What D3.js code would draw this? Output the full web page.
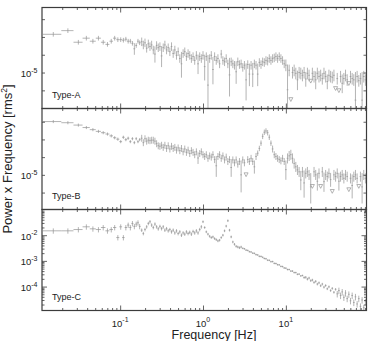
<!DOCTYPE html>
<html>
<head>
<meta charset="utf-8">
<script src="https://cdn.jsdelivr.net/npm/d3@7"></script>
<style>
  body { margin: 0; background: #fff; }
  svg { display: block; font-family: "Liberation Sans", Arial, sans-serif; }
</style>
</head>
<body>
<svg id="chart" width="374" height="341"></svg>
<script>
// bin centre frequencies [Hz], shared by the three spectra
var freq = [
  0.0156,0.0234,0.0313,0.0391,0.0469,0.0547,0.0625,0.0703,0.0781,0.0859,0.0938,0.1016,0.1094,0.1172,0.125,0.1328,0.1406,0.1484,0.1563,0.1641,0.1719,
  0.182,0.1905,0.1995,0.2089,0.2188,0.2291,0.2399,0.2512,0.263,0.2754,0.2884,0.302,0.3162,0.3311,0.3467,0.3631,0.3802,0.3981,0.4169,0.4365,
  0.4571,0.4786,0.5012,0.5248,0.5495,0.5754,0.6026,0.631,0.6607,0.6918,0.7244,0.7586,0.7943,0.8318,0.871,0.912,0.955,
  1,1.047,1.096,1.148,1.202,1.259,1.318,1.38,1.445,1.514,1.585,1.66,1.738,1.82,1.905,1.995,2.089,2.188,2.291,2.399,
  2.512,2.63,2.754,2.884,3.02,3.162,3.311,3.467,3.631,3.802,3.981,4.169,4.365,4.571,4.786,5.012,5.248,5.495,5.754,6.026,
  6.31,6.607,6.918,7.244,7.586,7.943,8.318,8.71,9.12,9.55,
  10,10.47,10.96,11.48,12.02,12.59,13.18,13.8,14.45,15.14,15.85,16.6,17.38,18.2,19.05,19.95,20.89,21.88,22.91,23.99,
  25.12,26.3,27.54,28.84,30.2,31.62,33.11,34.67,36.31,38.02,39.81,41.69,43.65,45.71,47.86,50.12,52.48,54.95,57.54,60.26,
  63.1,66.07,69.18,72.44,75.86,79.43,83.18,87.1,91.2
];

// Type-A, power x frequency in units of 1e-5 rms^2, relative errors, upper limits (indices)
var powA = [
  1.64,1.72,1.48,1.56,1.50,1.56,1.48,1.44,1.50,1.56,1.53,1.53,1.52,1.54,1.50,1.50,1.46,1.36,1.42,1.50,1.47,
  1.49,1.43,1.47,1.37,1.45,1.40,1.43,1.34,1.27,1.42, 1.38,1.40,1.24,1.38,1.43,1.34,1.38,1.31,1.40,1.28,
  1.34,1.25,1.31,1.20,1.12,1.28,1.31,1.23,1.28,1.25, 1.20,1.23,1.17,1.25,1.12,1.23,1.20,
  1.25,1.08,1.23,0.85,1.20,1.25,1.04,1.23,1.17,1.20, 1.12,1.27,1.17,1.15,1.20,1.12,0.97,1.15,1.12,1.10,
  1.01,1.15,1.11,1.12,1.07,1.10,0.91,1.11,0.98,1.10, 0.98,1.12,1.10,0.98,1.14,1.11,1.15,1.14,1.17,1.16,
  1.20,1.17,1.20,1.21,1.23,1.20,1.23,1.20,1.17,1.12,
  1.10,0.80,1.03,0.704,1.00,1.03,0.99,0.91,1.00,0.99, 0.965,1.00,0.92,0.99,0.965,0.893,0.99,0.95,0.91,0.99,
  0.95,0.965,0.925,0.99,0.95,0.89,0.965,0.95,0.94,0.965, 0.812,0.925,0.79,0.95,0.87,0.925,0.965,0.91,0.866,0.95,
  0.925,0.91,0.70,0.95,0.90,0.925,0.70,0.95,0.91
];
var errA = [
  0.025,0.025,0.025,0.025,0.025,0.025,0.025,0.025,0.025,0.025,0.025,0.025,0.025,0.025,0.025,0.025,0.025,0.07,0.025,0.025,0.025,
  0.05,0.05,0.05,0.05,0.05,0.05,0.05,0.05,0.10,0.05, 0.05,0.05,0.13,0.05,0.05,0.05,0.05,0.05,0.05,0.05,
  0.05,0.05,0.05,0.05,0.16,0.05,0.05,0.05,0.05,0.05, 0.05,0.05,0.05,0.05,0.12,0.05,0.05,
  0.05,0.16,0.05,0.47,0.05,0.05,0.17,0.05,0.05,0.05, 0.05,0.05,0.05,0.05,0.05,0.05,0.24,0.05,0.05,0.05,
  0.14,0.05,0.05,0.05,0.05,0.05,0.23,0.05,0.14,0.05, 0.15,0.05,0.05,0.14,0.05,0.05,0.05,0.05,0.05,0.05,
  0.05,0.05,0.05,0.05,0.05,0.05,0.05,0.05,0.05,0.05,
  0.07,0.38,0.07,0,0.07,0.07,0.07,0.12,0.07,0.07, 0.07,0.07,0.09,0.07,0.07,0,0.07,0.07,0.11,0.07,
  0.07,0.07,0.07,0.07,0.07,0.09,0.07,0.07,0.07,0.07, 0,0.07,0,0.07,0.115,0.07,0.07,0.07,0,0.07,
  0.07,0.07,0.43,0.07,0.07,0.07,0.43,0.07,0.07
];
var ulA = [111, 123, 138, 140, 146];

// Type-B, units of 1e-5 rms^2
var powB = [
  2.00,1.97,1.91,1.85,1.80,1.76,1.73,1.70,1.66,1.62,1.59,1.54,1.63,1.58,1.61,1.54,1.60,1.52,1.60,1.54,1.58,
  1.61,1.52,1.60,1.55,1.57,1.56,1.57,1.57,1.55,1.50, 1.46,1.45,1.47,1.43,1.47,1.41,1.46,1.40,1.45,1.41,
  1.43,1.38,1.42,1.37,1.41,1.35,1.40,1.34,1.38,1.32, 1.37,1.34,1.30,1.35,1.245,1.32,1.35,
  1.30,1.27,1.30,1.24,1.28,1.26,1.30,1.22,1.125,1.27, 1.30,1.24,1.28,1.215,1.26,1.19,1.22,1.10,1.215,1.17,
  1.215,1.15,1.19,1.00,1.215,1.17,1.00,1.22,1.19,1.24, 1.19,1.11,1.27,1.325,1.41,1.51,1.65,1.74,1.77,1.73,
  1.63,1.51,1.40,1.30,1.27,1.24,1.22,1.20,1.24,1.19,
  1.07,1.24,1.28,1.30,1.24,1.16,1.11,1.067,1.04,0.935, 1.04,0.90,1.02,1.04,1.00,0.855,0.859,1.04,1.00,0.92,
  1.02,0.859,1.04,0.915,1.00,0.978,1.02,0.94,0.805,1.00, 0.978,1.02,0.92,0.978,1.00,0.956,1.00,0.978,0.823,0.956,
  0.87,0.978,1.00,0.956,0.859,0.978,0.855,1.00,0.956
];
var errB = [
  0.015,0.015,0.015,0.015,0.015,0.015,0.015,0.015,0.015,0.015,0.015,0.015,0.015,0.015,0.015,0.015,0.015,0.015,0.015,0.015,0.015,
  0.04,0.04,0.04,0.04,0.04,0.04,0.04,0.04,0.04,0.04, 0.04,0.04,0.04,0.04,0.04,0.04,0.04,0.04,0.04,0.04,
  0.04,0.04,0.04,0.04,0.04,0.04,0.04,0.04,0.04,0.04, 0.04,0.04,0.04,0.04,0.07,0.04,0.04,
  0.04,0.04,0.04,0.04,0.04,0.04,0.04,0.04,0.13,0.04, 0.04,0.04,0.04,0.04,0.04,0.04,0.04,0.11,0.04,0.04,
  0.04,0.04,0.04,0.20,0.04,0.04,0,0.04,0.04,0.04, 0.04,0.08,0.04,0.03,0.03,0.03,0.03,0.03,0.03,0.03,
  0.03,0.03,0.04,0.04,0.04,0.04,0.04,0.04,0.04,0.04,
  0.12,0.06,0.06,0.06,0.06,0.06,0.06,0.06,0.06,0.12, 0.06,0.17,0.06,0.06,0.06,0.19,0,0.06,0.06,0.11,
  0.06,0,0.06,0.12,0.06,0.06,0.06,0.085,0,0.06, 0.06,0.06,0.11,0.06,0.06,0.06,0.06,0.06,0,0.06,
  0.15,0.06,0.06,0.06,0,0.06,0.19,0.06,0.06
];
var ulB = [84, 124, 129, 136, 146, 152];

// Type-C, rms^2
var powC = [
  0.0148,0.0148,0.0166,0.0212,0.0177,0.0166,0.0199,0.0148,0.0166,0.0199,0.0081,0.0212,0.0081,0.0199,0.0248,0.0199,0.0286,0.0220,0.0270,0.0305,0.0220,
  0.0157,0.0116,0.0166,0.0212,0.0286,0.0334,0.0248,0.0199,0.0270,0.0212, 0.0177,0.0220,0.0180,0.0212,0.0157,0.0180,0.0148,0.0166,0.0135,0.0157,
  0.0123,0.0148,0.0116,0.0135,0.0100,0.0123,0.0110,0.0135,0.0116,0.0130, 0.0110,0.0140,0.0123,0.0148,0.0123,0.0166,0.0212,
  0.0334,0.0199,0.0135,0.0110,0.0091,0.0081,0.0086,0.0074,0.0067,0.0060, 0.0064,0.0081,0.0100,0.0148,0.0226,0.0366,0.0157,0.0086,0.00545,0.00443,
  0.00369,0.00347,0.00325,0.00347,
  0.00308,0.00295,0.00262,0.00255,0.00228,0.00222,0.00200,0.00196,0.00175,0.00170,
  0.00150,0.00149,0.00138,0.00124,0.00121,0.00106,0.00105,0.00093,0.00094,0.00080,
  0.00079,0.00071,0.00070,0.00061,0.00060,0.00053,0.00052,0.00046,0.00046,0.00040,
  0.00040,0.00035,0.00035,0.00030,0.000305,0.00026,0.00027,0.000225,0.00023,0.000195,
  0.000215,0.000170,0.000180,0.000145,0.000160,0.000125,0.000140,0.000108,0.000125,0.000095,
  0.000110,0.000082,0.000098,0.000070,0.000085,0.000060,0.000078,0.000052,0.000070,0.000045,
  0.000062,0.000038,0.000056,0.000034,0.000050,0.000028,0.000045,0.000024,0.000040,0.000021,
  0.000034,0.000017,0.000030,0.000015,0.000026
];
var errC = [
  0.2,0.2,0.2,0.2,0.2,0.2,0.2,0.2,0.2,0.2,0.2,0.2,0.2,0.2,0.2,0.2,0.2,0.2,0.2,0.2,0.2,
  0.12,0.12,0.12,0.12,0.12,0.12,0.12,0.12,0.12,0.12, 0.12,0.12,0.12,0.12,0.12,0.12,0.12,0.12,0.12,0.12,
  0.12,0.12,0.12,0.12,0.12,0.12,0.12,0.12,0.12,0.12, 0.12,0.12,0.12,0.12,0.12,0.12,0.12,
  0.08,0.08,0.08,0.08,0.08,0.08,0.08,0.08,0.08,0.08, 0.08,0.08,0.08,0.08,0.08,0.08,0.08,0.08,0.08,0.08,
  0.08,0.08,0.08,0.08,
  0.04,0.04,0.04,0.04,0.04,0.04,0.04,0.04,0.04,0.04, 0.04,0.04,0.04,0.04,0.04,0.04,0.04,0.04,0.04,0.04,
  0.04,0.04,0.04,0.04,0.04,0.04,0.04,0.04,0.04,0.04, 0.04,0.04,0.04,0.04,0.04,0.04,0.04,
  0.08,0.08,0.08,0.08,0.08,0.08,0.08,0.08,0.08,0.08, 0.08,0.08,0.08,0.08,0.08,0.08,0.08,0.08,0.08,0.08,
  0.25,0.25,0.25,0.25,0.25,0.25,0.25,0.25,0.25,0.25, 0.25,0.25,0.25,0.25,0.25,0.25,0.25,0.25
];
var ulC = [];

// axis ranges and ticks
var xRange = [0.0114, 94];
var xMajor = [0.1, 1, 10];
var xMinor = [0.02,0.03,0.04,0.05,0.06,0.07,0.08,0.09,0.2,0.3,0.4,0.5,0.6,0.7,0.8,0.9,
              2,3,4,5,6,7,8,9,20,30,40,50,60,70,80,90];
var xLabels = ['-1', '0', '1'];
var yRangeA = [6.28e-6, 2.32e-5];
var yRangeB = [6.37e-6, 2.37e-5];
var yRangeC = [1.17e-5, 0.1];
var yTicksAB = [7.94e-6, 1e-5, 1.259e-5, 1.585e-5, 1.995e-5];
var yLabelsAB = [[1e-5, '-5']];
var yTicksCMajor = [1e-4, 1e-3, 1e-2];
var yLabelsC = [[1e-2, '-2'], [1e-3, '-3'], [1e-4, '-4']];
var names = ['Type-A', 'Type-B', 'Type-C'];

var panels = [
  {name: names[0], pow: powA, err: errA, ul: ulA, unit: 1e-5, range: yRangeA, labels: yLabelsAB},
  {name: names[1], pow: powB, err: errB, ul: ulB, unit: 1e-5, range: yRangeB, labels: yLabelsAB},
  {name: names[2], pow: powC, err: errC, ul: ulC, unit: 1,    range: yRangeC, labels: yLabelsC}
];

var left = 42, right = 366.5, top0 = 7.5, ph = 101;
var frameColor = '#3c3c3c', dataColor = '#939393';

var svg = d3.select('#chart');
var x = d3.scaleLog().domain(xRange).range([left, right]);

// bin edges: half way to neighbouring bins
function edges(i) {
  var f = freq[i];
  var lo = i > 0 ? (f + freq[i-1]) / 2 : f - (freq[1] - freq[0]) / 2;
  var hi = i < freq.length - 1 ? (f + freq[i+1]) / 2 : f * Math.sqrt(freq[i] / freq[i-1]);
  return [lo, hi];
}

function expLabel(t, e) {
  t.append('tspan').text('10');
  t.append('tspan').attr('dy', -4.5).style('font-size', '7px').text(e);
}

function minorLog(range) {
  var out = [];
  var d0 = Math.floor(Math.log10(range[0])), d1 = Math.ceil(Math.log10(range[1]));
  for (var d = d0; d < d1; d++)
    for (var m = 2; m <= 9; m++) {
      var v = m * Math.pow(10, d);
      if (v > range[0] && v < range[1]) out.push(v);
    }
  return out;
}

panels.forEach(function(p, k) {
  var top = top0 + k * ph, bottom = top + ph;
  var y = d3.scaleLog().domain(p.range).range([bottom, top]);
  var g = svg.append('g');

  g.append('clipPath').attr('id', 'clip' + k)
    .append('rect').attr('x', left).attr('y', top).attr('width', right - left).attr('height', ph);

  var dg = g.append('g').attr('clip-path', 'url(#clip' + k + ')')
    .attr('stroke', dataColor).attr('stroke-width', 0.7).attr('fill', 'none');

  var pts = freq.map(function(f, i) {
    return {f: f, v: p.pow[i] * p.unit, e: p.err[i], ul: p.ul.indexOf(i) >= 0, ed: edges(i)};
  });

  // horizontal bars (bin width)
  dg.selectAll('line.h').data(pts.filter(function(d) { return !d.ul; }))
    .enter().append('line').attr('class', 'h')
    .attr('x1', function(d) { return x(d.ed[0]); })
    .attr('x2', function(d) { return x(d.ed[1]); })
    .attr('y1', function(d) { return y(d.v); })
    .attr('y2', function(d) { return y(d.v); });

  // vertical error bars
  dg.selectAll('line.v').data(pts.filter(function(d) { return !d.ul; }))
    .enter().append('line').attr('class', 'v')
    .attr('x1', function(d) { return x(d.f); })
    .attr('x2', function(d) { return x(d.f); })
    .attr('y1', function(d) { var lo = d.v * (1 - d.e); return lo > 0 ? y(lo) + 0.4 : bottom + 2; })
    .attr('y2', function(d) { return y(d.v * (1 + d.e)) - 0.4; });

  // upper limits as small down triangles
  dg.selectAll('path.ul').data(pts.filter(function(d) { return d.ul; }))
    .enter().append('path').attr('class', 'ul')
    .attr('d', function(d) {
      var cx = x(d.f), cy = y(d.v);
      return 'M' + (cx - 2) + ',' + (cy - 2) + 'L' + (cx + 2) + ',' + (cy - 2) + 'L' + cx + ',' + (cy + 1.8) + 'Z';
    });

  // ticks, pointing inwards on all four sides
  var ax = g.append('g').attr('color', frameColor).attr('stroke-width', 0.8);
  function put(axis, tx, ty) {
    ax.append('g').attr('transform', 'translate(' + tx + ',' + ty + ')')
      .call(axis.tickFormat(''))
      .call(function(s) { s.select('.domain').remove(); });
  }
  put(d3.axisBottom(x).tickValues(xMajor).tickSize(-5), 0, bottom);
  put(d3.axisBottom(x).tickValues(xMinor).tickSize(-2.5), 0, bottom);
  put(d3.axisTop(x).tickValues(xMajor).tickSize(-5), 0, top);
  put(d3.axisTop(x).tickValues(xMinor).tickSize(-2.5), 0, top);

  if (k < 2) {
    put(d3.axisLeft(y).tickValues(yTicksAB).tickSize(-3), left, 0);
    put(d3.axisRight(y).tickValues(yTicksAB).tickSize(-3), right, 0);
  } else {
    put(d3.axisLeft(y).tickValues(yTicksCMajor).tickSize(-5), left, 0);
    put(d3.axisLeft(y).tickValues(minorLog(p.range)).tickSize(-2.5), left, 0);
    put(d3.axisRight(y).tickValues(yTicksCMajor).tickSize(-5), right, 0);
    put(d3.axisRight(y).tickValues(minorLog(p.range)).tickSize(-2.5), right, 0);
  }

  g.append('rect').attr('x', left).attr('y', top).attr('width', right - left).attr('height', ph)
    .attr('fill', 'none').attr('stroke', frameColor).attr('stroke-width', 1.2);

  // y tick labels
  p.labels.forEach(function(l) {
    var t = g.append('text').attr('x', left - 4.5).attr('y', y(l[0]) + 4.5)
      .attr('text-anchor', 'end').style('font-size', '9.5px').attr('fill', '#222');
    expLabel(t, l[1]);
  });

  g.append('text').attr('x', 52).attr('y', top + 90.5)
    .style('font-size', '9px').attr('fill', '#222').text(p.name);
});

// x tick labels under the last panel
xMajor.forEach(function(v, i) {
  var t = svg.append('text').attr('x', x(v)).attr('y', top0 + 3 * ph + 16)
    .attr('text-anchor', 'middle').style('font-size', '9.5px').attr('fill', '#222');
  expLabel(t, xLabels[i]);
});

svg.append('text').attr('x', 214).attr('y', 339).attr('text-anchor', 'middle')
  .style('font-size', '12.5px').attr('fill', '#222').text('Frequency [Hz]');

var yt = svg.append('text').attr('transform', 'translate(12,' + (top0 + 1.5 * ph) + ') rotate(-90)')
  .attr('text-anchor', 'middle').style('font-size', '13px').attr('fill', '#222');
yt.append('tspan').text('Power x Frequency [rms');
yt.append('tspan').attr('dy', -5).style('font-size', '8.5px').text('2');
yt.append('tspan').attr('dy', 5).text(']');
</script>
</body>
</html>
